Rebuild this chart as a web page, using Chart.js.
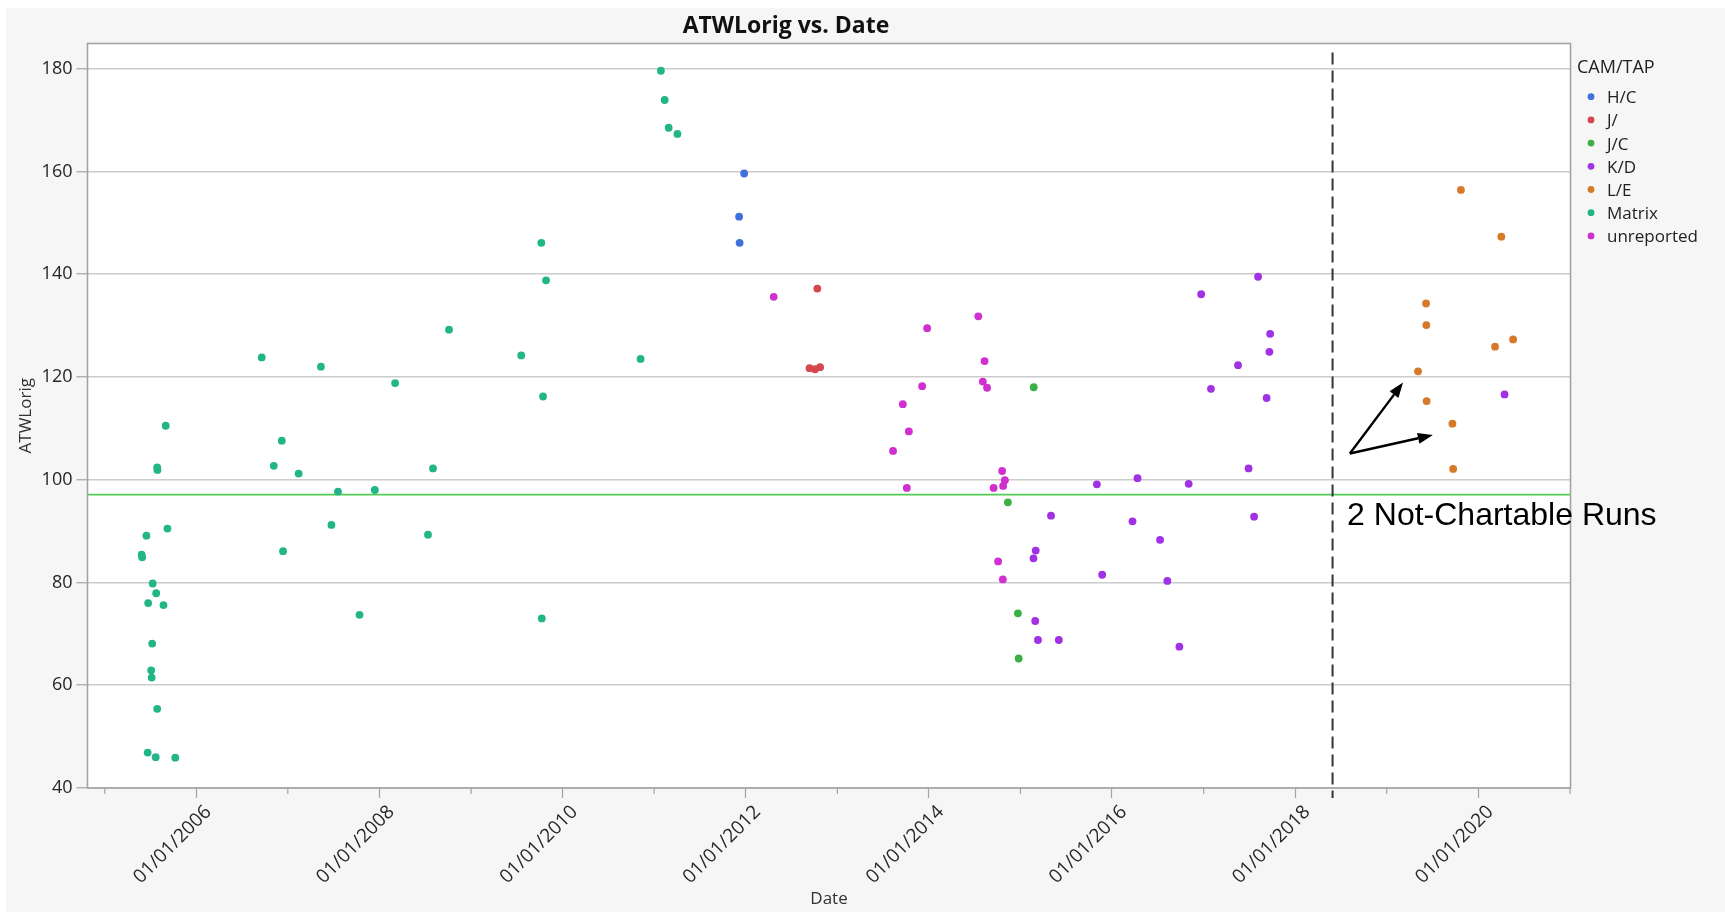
<!DOCTYPE html>
<html>
<head>
<meta charset="utf-8">
<title>ATWLorig vs. Date</title>
<script src="https://cdn.jsdelivr.net/npm/chart.js@4.4.0/dist/chart.umd.min.js"></script>
<style>
  html, body { margin: 0; padding: 0; background: #fff; }
  #wrap { width: 1725px; height: 912px; }
</style>
</head>
<body>
<div id="wrap"><canvas id="atwlChart" width="1725" height="912"></canvas></div>
<script>
// ATWLorig per run, grouped by CAM/TAP
const hcDates = ['2011-12-06', '2011-12-08', '2011-12-26'];
const hcValues = [151.2, 146.1, 159.6];

const jDates = ['2012-09-12', '2012-10-04', '2012-10-13', '2012-10-24'];
const jValues = [121.7, 121.5, 137.2, 121.9];

const jcDates = ['2014-11-12', '2014-12-22', '2014-12-25', '2015-02-23'];
const jcValues = [95.6, 74.0, 65.2, 118.0];

const kdDates = [
    '2015-02-22', '2015-03-01', '2015-03-03', '2015-03-12', '2015-05-03', '2015-06-03',
    '2015-11-02', '2015-11-23', '2016-03-23', '2016-04-12', '2016-07-11', '2016-08-09',
    '2016-09-26', '2016-11-02', '2016-12-22', '2017-01-30', '2017-05-18', '2017-06-29',
    '2017-07-21', '2017-08-06', '2017-09-09', '2017-09-20', '2017-09-23', '2020-04-15'
];
const kdValues = [
    84.7, 72.5, 86.2, 68.8, 93.0, 68.8,
    99.1, 81.5, 91.9, 100.3, 88.3, 80.3,
    67.5, 99.2, 136.1, 117.7, 122.3, 102.2,
    92.8, 139.5, 115.9, 124.9, 128.4, 116.6
];

const leDates = [
    '2019-05-06', '2019-06-07', '2019-06-08', '2019-06-09', '2019-09-20',
    '2019-09-23', '2019-10-24', '2020-03-08', '2020-04-02', '2020-05-19'
];
const leValues = [121.1, 134.3, 130.1, 115.3, 110.9, 102.1, 156.4, 125.9, 147.3, 127.3];

const matrixDates = [
    '2005-05-28', '2005-05-30', '2005-06-16', '2005-06-21', '2005-06-23', '2005-07-05',
    '2005-07-07', '2005-07-09', '2005-07-11', '2005-07-23', '2005-07-25', '2005-07-29',
    '2005-07-29', '2005-07-30', '2005-08-23', '2005-09-01', '2005-09-08', '2005-10-09',
    '2006-09-19', '2006-11-06', '2006-12-08', '2006-12-13', '2007-02-13', '2007-05-13',
    '2007-06-24', '2007-07-20', '2007-10-14', '2007-12-14', '2008-03-04', '2008-07-13',
    '2008-08-02', '2008-10-05', '2009-07-20', '2009-10-08', '2009-10-10', '2009-10-15',
    '2009-10-27', '2010-11-08', '2011-01-28', '2011-02-12', '2011-02-28', '2011-04-04'
];
const matrixValues = [
    85.4, 84.9, 89.1, 46.9, 76.0, 62.9,
    61.5, 68.1, 79.8, 46.0, 77.9, 102.4,
    55.4, 101.9, 75.6, 110.5, 90.5, 45.9,
    123.8, 102.7, 107.6, 86.1, 101.2, 122.0,
    91.2, 97.7, 73.7, 98.0, 118.8, 89.3,
    102.2, 129.2, 124.2, 146.1, 73.0, 116.2,
    138.8, 123.5, 179.6, 173.9, 168.5, 167.3
];

const unrepDates = [
    '2012-04-22', '2013-08-11', '2013-09-19', '2013-10-05', '2013-10-13', '2013-12-05',
    '2013-12-25', '2014-07-17', '2014-08-04', '2014-08-11', '2014-08-21', '2014-09-16',
    '2014-10-04', '2014-10-20', '2014-10-23', '2014-10-24', '2014-10-31'
];
const unrepValues = [
    135.6, 105.6, 114.7, 98.4, 109.4, 118.2,
    129.5, 131.8, 119.1, 123.1, 117.9, 98.4,
    84.1, 101.7, 80.6, 98.8, 99.9
];

// axis ticks
const yTicks = [40, 60, 80, 100, 120, 140, 160, 180];
const labelYears = [2006, 2008, 2010, 2012, 2014, 2016, 2018, 2020];
const minorYears = [2005, 2007, 2009, 2011, 2013, 2015, 2017, 2019, 2021];

// reference line, cut-off marker and the note beside it
const refLineValue = 97.1;
const cutoffDate = '2018-05-30';
const arrowTail = ['2018-08-07', 105.1];
const arrowHeads = [['2019-03-07', 118.9], ['2019-07-04', 108.7]];
const noteAnchor = ['2018-07-27', 91.2];
const noteText = '2 Not-Chartable Runs';

const FONT = "'Open Sans', 'Noto Sans', sans-serif";

// 'YYYY-MM-DD' parses as UTC midnight
function toTime(s) {
    return Date.parse(s);
}

function toPoints(dates, values) {
    return dates.map((d, i) => ({ x: toTime(d), y: values[i] }));
}

const groups = [
    { label: 'H/C', color: '#4070dc', dates: hcDates, values: hcValues },
    { label: 'J/', color: '#d5464f', dates: jDates, values: jValues },
    { label: 'J/C', color: '#3db045', dates: jcDates, values: jcValues },
    { label: 'K/D', color: '#a031e4', dates: kdDates, values: kdValues },
    { label: 'L/E', color: '#d67a2a', dates: leDates, values: leValues },
    { label: 'Matrix', color: '#22b587', dates: matrixDates, values: matrixValues },
    { label: 'unreported', color: '#cf30cf', dates: unrepDates, values: unrepValues }
];

function drawArrow(ctx, x0, y0, x1, y1) {
    const ang = Math.atan2(y1 - y0, x1 - x0);
    const head = 15, half = 5.5;
    const bx = x1 - head * Math.cos(ang);
    const by = y1 - head * Math.sin(ang);
    ctx.beginPath();
    ctx.moveTo(x0, y0);
    ctx.lineTo(bx, by);
    ctx.stroke();
    ctx.beginPath();
    ctx.moveTo(x1, y1);
    ctx.lineTo(bx + half * Math.sin(ang), by - half * Math.cos(ang));
    ctx.lineTo(bx - half * Math.sin(ang), by + half * Math.cos(ang));
    ctx.closePath();
    ctx.fill();
}

// panel background, frame, reference line, notes, title and legend
const jmpFrame = {
    id: 'jmpFrame',
    beforeDraw(chart) {
        const { ctx, chartArea: a, width, height } = chart;
        ctx.save();
        ctx.fillStyle = '#ffffff';
        ctx.fillRect(0, 0, width, height);
        ctx.fillStyle = '#f6f6f6';
        ctx.fillRect(6, 8, width - 6, height - 8);
        ctx.fillStyle = '#ffffff';
        ctx.fillRect(a.left, a.top, a.right - a.left, a.bottom - a.top);
        ctx.restore();
    },
    beforeDatasetsDraw(chart) {
        const { ctx, chartArea: a, scales } = chart;
        const y = scales.y.getPixelForValue(refLineValue);
        ctx.save();
        ctx.strokeStyle = '#52cc52';
        ctx.lineWidth = 1.6;
        ctx.beginPath();
        ctx.moveTo(a.left, y);
        ctx.lineTo(a.right, y);
        ctx.stroke();
        ctx.restore();
    },
    afterDatasetsDraw(chart) {
        const { ctx, chartArea: a, scales } = chart;
        const xs = scales.x, ys = scales.y;
        ctx.save();

        // plot frame
        ctx.strokeStyle = '#a3a3a3';
        ctx.lineWidth = 1.6;
        ctx.strokeRect(a.left, a.top, a.right - a.left, a.bottom - a.top);

        // minor year ticks
        ctx.lineWidth = 1.2;
        minorYears.forEach(yr => {
            const px = xs.getPixelForValue(Date.UTC(yr, 0, 1));
            ctx.beginPath();
            ctx.moveTo(px, a.bottom);
            ctx.lineTo(px, a.bottom + 6);
            ctx.stroke();
        });

        // dashed cut-off line
        const cx = xs.getPixelForValue(toTime(cutoffDate));
        ctx.strokeStyle = '#333333';
        ctx.lineWidth = 2;
        ctx.setLineDash([12, 6]);
        ctx.beginPath();
        ctx.moveTo(cx, a.top + 9);
        ctx.lineTo(cx, a.bottom + 10);
        ctx.stroke();
        ctx.setLineDash([]);

        // arrows to the two runs
        ctx.strokeStyle = '#000000';
        ctx.fillStyle = '#000000';
        ctx.lineWidth = 2.4;
        const tx = xs.getPixelForValue(toTime(arrowTail[0]));
        const ty = ys.getPixelForValue(arrowTail[1]);
        arrowHeads.forEach(h => {
            drawArrow(ctx, tx, ty, xs.getPixelForValue(toTime(h[0])), ys.getPixelForValue(h[1]));
        });

        // note
        ctx.font = "32px 'Liberation Sans', Arial, sans-serif";
        ctx.textAlign = 'left';
        ctx.textBaseline = 'alphabetic';
        ctx.fillText(noteText, xs.getPixelForValue(toTime(noteAnchor[0])), ys.getPixelForValue(noteAnchor[1]));
        ctx.restore();
    },
    afterDraw(chart) {
        const { ctx } = chart;
        ctx.save();

        // title
        ctx.fillStyle = '#111111';
        ctx.font = 'bold 23px ' + FONT;
        ctx.textAlign = 'center';
        ctx.textBaseline = 'alphabetic';
        ctx.fillText('ATWLorig vs. Date', 786, 33);

        // legend
        ctx.textAlign = 'left';
        ctx.fillStyle = '#222222';
        ctx.font = '18px ' + FONT;
        ctx.fillText('CAM/TAP', 1577, 73);
        ctx.font = '17px ' + FONT;
        chart.data.datasets.forEach((ds, i) => {
            const cy = 96.7 + i * 23.2;
            ctx.fillStyle = ds.backgroundColor;
            ctx.beginPath();
            ctx.arc(1591, cy, 3.4, 0, Math.PI * 2);
            ctx.fill();
            ctx.fillStyle = '#222222';
            ctx.fillText(ds.label, 1607, cy + 6.5);
        });
        ctx.restore();
    }
};

const atwlChart = new Chart(document.getElementById('atwlChart'), {
    type: 'scatter',
    data: {
        datasets: groups.map(g => ({
            label: g.label,
            data: toPoints(g.dates, g.values),
            backgroundColor: g.color,
            borderColor: g.color,
            pointRadius: 3.9,
            pointBorderWidth: 0,
            pointHoverRadius: 5
        }))
    },
    options: {
        responsive: false,
        animation: false,
        devicePixelRatio: 1,
        layout: {
            padding: { top: 43.5, right: 154.5, bottom: 0, left: 0 }
        },
        plugins: {
            legend: { display: false },
            title: { display: false },
            tooltip: {
                callbacks: {
                    label: function(context) {
                        const d = new Date(context.parsed.x);
                        return context.dataset.label + ': ' + d.toISOString().slice(0, 10) + ', ' + context.parsed.y;
                    }
                }
            }
        },
        scales: {
            x: {
                type: 'linear',
                min: toTime('2004-10-24'),
                max: toTime('2021-01-03'),
                afterFit: function(scale) {
                    scale.height = 124;
                },
                afterBuildTicks: function(scale) {
                    scale.ticks = labelYears.map(yr => ({ value: Date.UTC(yr, 0, 1) }));
                },
                grid: {
                    drawOnChartArea: false,
                    tickLength: 10,
                    tickColor: '#a3a3a3',
                    tickWidth: 1.2
                },
                border: { display: false },
                ticks: {
                    autoSkip: false,
                    maxRotation: 45,
                    minRotation: 45,
                    padding: 3,
                    labelOffset: 12,
                    color: '#262626',
                    font: { family: FONT, size: 19 },
                    callback: function(value) {
                        return '01/01/' + new Date(value).getUTCFullYear();
                    }
                },
                title: {
                    display: true,
                    text: 'Date',
                    color: '#333333',
                    font: { family: FONT, size: 17 },
                    padding: { top: 0, bottom: 3 }
                }
            },
            y: {
                min: 40,
                max: 184.9,
                afterFit: function(scale) {
                    scale.width = 87.5;
                },
                afterBuildTicks: function(scale) {
                    scale.ticks = yTicks.map(v => ({ value: v }));
                },
                grid: {
                    color: '#cccccc',
                    lineWidth: 1.5,
                    tickLength: 11,
                    tickColor: '#a3a3a3',
                    tickWidth: 1.2
                },
                border: { display: false },
                ticks: {
                    padding: 4,
                    color: '#262626',
                    font: { family: FONT, size: 18 }
                },
                title: {
                    display: true,
                    text: 'ATWLorig',
                    color: '#333333',
                    font: { family: FONT, size: 17 },
                    padding: { top: 16, bottom: 0 }
                }
            }
        }
    },
    plugins: [jmpFrame]
});
</script>
</body>
</html>
